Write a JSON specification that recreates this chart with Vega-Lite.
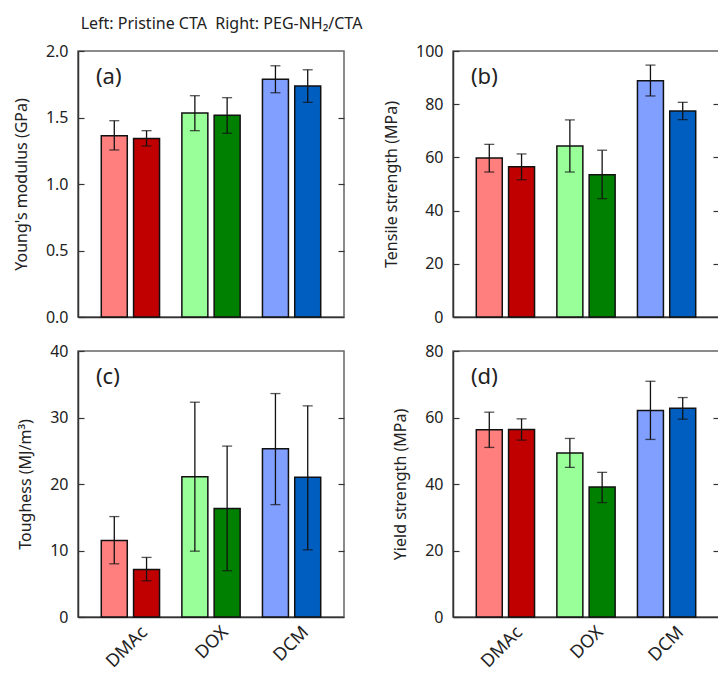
{
  "$schema": "https://vega.github.io/schema/vega-lite/v6.json",
  "padding": {"left": 12, "top": 16, "right": 0, "bottom": 0},
  "title": {"text": "Left: Pristine CTA\u00a0 Right: PEG-NH\u2082/CTA", "anchor": "start", "fontSize": 16, "fontWeight": "normal", "font": "Noto Sans", "color": "#222", "dx": 68, "offset": 10},
  "datasets": {
    "d": [
      {"panel": "a", "solvent": "DMAc", "sample": "Pristine", "bar": "DMAc Pristine", "value": 1.363, "lo": 1.256, "hi": 1.476},
      {"panel": "a", "solvent": "DMAc", "sample": "PEG", "bar": "DMAc PEG", "value": 1.343, "lo": 1.286, "hi": 1.401},
      {"panel": "a", "solvent": "DOX", "sample": "Pristine", "bar": "DOX Pristine", "value": 1.534, "lo": 1.401, "hi": 1.664},
      {"panel": "a", "solvent": "DOX", "sample": "PEG", "bar": "DOX PEG", "value": 1.516, "lo": 1.381, "hi": 1.649},
      {"panel": "a", "solvent": "DCM", "sample": "Pristine", "bar": "DCM Pristine", "value": 1.787, "lo": 1.686, "hi": 1.889},
      {"panel": "a", "solvent": "DCM", "sample": "PEG", "bar": "DCM PEG", "value": 1.737, "lo": 1.614, "hi": 1.859},
      {"panel": "b", "solvent": "DMAc", "sample": "Pristine", "bar": "DMAc Pristine", "value": 59.8, "lo": 54.5, "hi": 64.9},
      {"panel": "b", "solvent": "DMAc", "sample": "PEG", "bar": "DMAc PEG", "value": 56.5, "lo": 51.6, "hi": 61.3},
      {"panel": "b", "solvent": "DOX", "sample": "Pristine", "bar": "DOX Pristine", "value": 64.3, "lo": 54.5, "hi": 74.1},
      {"panel": "b", "solvent": "DOX", "sample": "PEG", "bar": "DOX PEG", "value": 53.5, "lo": 44.5, "hi": 62.7},
      {"panel": "b", "solvent": "DCM", "sample": "Pristine", "bar": "DCM Pristine", "value": 88.8, "lo": 83.1, "hi": 94.7},
      {"panel": "b", "solvent": "DCM", "sample": "PEG", "bar": "DCM PEG", "value": 77.4, "lo": 74.2, "hi": 80.7},
      {"panel": "c", "solvent": "DMAc", "sample": "Pristine", "bar": "DMAc Pristine", "value": 11.5, "lo": 8.0, "hi": 15.1},
      {"panel": "c", "solvent": "DMAc", "sample": "PEG", "bar": "DMAc PEG", "value": 7.15, "lo": 5.45, "hi": 8.96},
      {"panel": "c", "solvent": "DOX", "sample": "Pristine", "bar": "DOX Pristine", "value": 21.1, "lo": 9.9, "hi": 32.3},
      {"panel": "c", "solvent": "DOX", "sample": "PEG", "bar": "DOX PEG", "value": 16.3, "lo": 6.96, "hi": 25.7},
      {"panel": "c", "solvent": "DCM", "sample": "Pristine", "bar": "DCM Pristine", "value": 25.3, "lo": 16.9, "hi": 33.6},
      {"panel": "c", "solvent": "DCM", "sample": "PEG", "bar": "DCM PEG", "value": 21.0, "lo": 10.1, "hi": 31.75},
      {"panel": "d", "solvent": "DMAc", "sample": "Pristine", "bar": "DMAc Pristine", "value": 56.3, "lo": 51.0, "hi": 61.6},
      {"panel": "d", "solvent": "DMAc", "sample": "PEG", "bar": "DMAc PEG", "value": 56.4, "lo": 53.2, "hi": 59.6},
      {"panel": "d", "solvent": "DOX", "sample": "Pristine", "bar": "DOX Pristine", "value": 49.3, "lo": 45.0, "hi": 53.7},
      {"panel": "d", "solvent": "DOX", "sample": "PEG", "bar": "DOX PEG", "value": 39.1, "lo": 34.4, "hi": 43.5},
      {"panel": "d", "solvent": "DCM", "sample": "Pristine", "bar": "DCM Pristine", "value": 62.1, "lo": 53.4, "hi": 70.9},
      {"panel": "d", "solvent": "DCM", "sample": "PEG", "bar": "DCM PEG", "value": 62.8, "lo": 59.5, "hi": 66.0}
    ]
  },
  "config": {
    "font": "Noto Sans",
    "view": {"stroke": "#666", "strokeWidth": 1.5},
    "title": {"font": "Noto Sans", "fontWeight": "normal", "color": "#222"},
    "axis": {"grid": false, "labelFont": "Noto Sans", "labelFontSize": 16, "labelColor": "#222", "titleFont": "Noto Sans", "titleFontSize": 16, "titleFontWeight": "normal", "titleColor": "#222", "domainColor": "#333", "domainWidth": 1.5, "tickColor": "#333", "tickWidth": 1.2}
  },
  "columns": 2,
  "spacing": {"row": 34, "column": 109},
  "bounds": "flush",
  "concat": [
    {
      "width": 266, "height": 266,
      "title": {"text": "(a)", "anchor": "start", "frame": "group", "offset": -46, "dx": 18, "fontSize": 22},
      "data": {"name": "d"},
      "transform": [{"filter": "datum.panel === 'a'"}],
      "encoding": {
        "x": {"field": "solvent", "type": "nominal", "sort": ["DMAc", "DOX", "DCM"], "scale": {"paddingInner": 0.277, "paddingOuter": 0.289}, "axis": {"labels": false, "ticks": false, "title": null}},
        "xOffset": {"field": "sample", "type": "nominal", "sort": ["Pristine", "PEG"], "scale": {"paddingInner": 0.195, "paddingOuter": 0}}
      },
      "layer": [
        {"mark": {"type": "bar", "stroke": "#111", "strokeWidth": 1.5},
         "encoding": {
           "y": {"field": "value", "type": "quantitative", "scale": {"domain": [0, 2]}, "axis": {"title": "Young's modulus (GPa)", "values": [0, 0.5, 1, 1.5, 2], "format": ".1f", "tickSize": -6, "labelPadding": 16, "titlePadding": 16}},
           "color": {"field": "bar", "type": "nominal", "scale": {"domain": ["DMAc Pristine", "DMAc PEG", "DOX Pristine", "DOX PEG", "DCM Pristine", "DCM PEG"], "range": ["#FF7F7F", "#C00000", "#99FF99", "#008000", "#809FFF", "#005EC0"]}, "legend": null}}},
        {"mark": {"type": "rule", "color": "#111", "strokeWidth": 1.3},
         "encoding": {"y": {"field": "lo", "type": "quantitative", "scale": {"domain": [0, 2]}, "axis": {"orient": "right", "labels": false, "title": null, "domain": false, "tickSize": -6, "values": [0.5, 1, 1.5]}}, "y2": {"field": "hi"}}},
        {"mark": {"type": "tick", "color": "#111", "size": 10, "thickness": 1.3}, "encoding": {"y": {"field": "lo", "type": "quantitative", "axis": null}}},
        {"mark": {"type": "tick", "color": "#111", "size": 10, "thickness": 1.3}, "encoding": {"y": {"field": "hi", "type": "quantitative", "axis": null}}}
      ],
      "resolve": {"axis": {"y": "independent"}}
    },
    {
      "width": 266, "height": 266,
      "title": {"text": "(b)", "anchor": "start", "frame": "group", "offset": -46, "dx": 18, "fontSize": 22},
      "data": {"name": "d"},
      "transform": [{"filter": "datum.panel === 'b'"}],
      "encoding": {
        "x": {"field": "solvent", "type": "nominal", "sort": ["DMAc", "DOX", "DCM"], "scale": {"paddingInner": 0.277, "paddingOuter": 0.289}, "axis": {"labels": false, "ticks": false, "title": null}},
        "xOffset": {"field": "sample", "type": "nominal", "sort": ["Pristine", "PEG"], "scale": {"paddingInner": 0.195, "paddingOuter": 0}}
      },
      "layer": [
        {"mark": {"type": "bar", "stroke": "#111", "strokeWidth": 1.5},
         "encoding": {
           "y": {"field": "value", "type": "quantitative", "scale": {"domain": [0, 100]}, "axis": {"title": "Tensile strength (MPa)", "values": [0, 20, 40, 60, 80, 100], "tickSize": -6, "labelPadding": 16, "titlePadding": 16}},
           "color": {"field": "bar", "type": "nominal", "scale": {"domain": ["DMAc Pristine", "DMAc PEG", "DOX Pristine", "DOX PEG", "DCM Pristine", "DCM PEG"], "range": ["#FF7F7F", "#C00000", "#99FF99", "#008000", "#809FFF", "#005EC0"]}, "legend": null}}},
        {"mark": {"type": "rule", "color": "#111", "strokeWidth": 1.3},
         "encoding": {"y": {"field": "lo", "type": "quantitative", "scale": {"domain": [0, 100]}, "axis": {"orient": "right", "labels": false, "title": null, "domain": false, "tickSize": -6, "values": [20, 40, 60, 80]}}, "y2": {"field": "hi"}}},
        {"mark": {"type": "tick", "color": "#111", "size": 10, "thickness": 1.3}, "encoding": {"y": {"field": "lo", "type": "quantitative", "axis": null}}},
        {"mark": {"type": "tick", "color": "#111", "size": 10, "thickness": 1.3}, "encoding": {"y": {"field": "hi", "type": "quantitative", "axis": null}}}
      ],
      "resolve": {"axis": {"y": "independent"}}
    },
    {
      "width": 266, "height": 266,
      "title": {"text": "(c)", "anchor": "start", "frame": "group", "offset": -46, "dx": 18, "fontSize": 22},
      "data": {"name": "d"},
      "transform": [{"filter": "datum.panel === 'c'"}],
      "encoding": {
        "x": {"field": "solvent", "type": "nominal", "sort": ["DMAc", "DOX", "DCM"], "scale": {"paddingInner": 0.277, "paddingOuter": 0.289}, "axis": {"labelAngle": -45, "ticks": false, "title": null, "labelPadding": 6, "labelOffset": 8, "labelFontSize": 18}},
        "xOffset": {"field": "sample", "type": "nominal", "sort": ["Pristine", "PEG"], "scale": {"paddingInner": 0.195, "paddingOuter": 0}}
      },
      "layer": [
        {"mark": {"type": "bar", "stroke": "#111", "strokeWidth": 1.5},
         "encoding": {
           "y": {"field": "value", "type": "quantitative", "scale": {"domain": [0, 40]}, "axis": {"title": "Toughess (MJ/m\u00b3)", "values": [0, 10, 20, 30, 40], "tickSize": -6, "labelPadding": 16, "titlePadding": 16}},
           "color": {"field": "bar", "type": "nominal", "scale": {"domain": ["DMAc Pristine", "DMAc PEG", "DOX Pristine", "DOX PEG", "DCM Pristine", "DCM PEG"], "range": ["#FF7F7F", "#C00000", "#99FF99", "#008000", "#809FFF", "#005EC0"]}, "legend": null}}},
        {"mark": {"type": "rule", "color": "#111", "strokeWidth": 1.3},
         "encoding": {"y": {"field": "lo", "type": "quantitative", "scale": {"domain": [0, 40]}, "axis": {"orient": "right", "labels": false, "title": null, "domain": false, "tickSize": -6, "values": [10, 20, 30]}}, "y2": {"field": "hi"}}},
        {"mark": {"type": "tick", "color": "#111", "size": 10, "thickness": 1.3}, "encoding": {"y": {"field": "lo", "type": "quantitative", "axis": null}}},
        {"mark": {"type": "tick", "color": "#111", "size": 10, "thickness": 1.3}, "encoding": {"y": {"field": "hi", "type": "quantitative", "axis": null}}}
      ],
      "resolve": {"axis": {"y": "independent"}}
    },
    {
      "width": 266, "height": 266,
      "title": {"text": "(d)", "anchor": "start", "frame": "group", "offset": -46, "dx": 18, "fontSize": 22},
      "data": {"name": "d"},
      "transform": [{"filter": "datum.panel === 'd'"}],
      "encoding": {
        "x": {"field": "solvent", "type": "nominal", "sort": ["DMAc", "DOX", "DCM"], "scale": {"paddingInner": 0.277, "paddingOuter": 0.289}, "axis": {"labelAngle": -45, "ticks": false, "title": null, "labelPadding": 6, "labelOffset": 8, "labelFontSize": 18}},
        "xOffset": {"field": "sample", "type": "nominal", "sort": ["Pristine", "PEG"], "scale": {"paddingInner": 0.195, "paddingOuter": 0}}
      },
      "layer": [
        {"mark": {"type": "bar", "stroke": "#111", "strokeWidth": 1.5},
         "encoding": {
           "y": {"field": "value", "type": "quantitative", "scale": {"domain": [0, 80]}, "axis": {"title": "Yield strength (MPa)", "values": [0, 20, 40, 60, 80], "tickSize": -6, "labelPadding": 16, "titlePadding": 16}},
           "color": {"field": "bar", "type": "nominal", "scale": {"domain": ["DMAc Pristine", "DMAc PEG", "DOX Pristine", "DOX PEG", "DCM Pristine", "DCM PEG"], "range": ["#FF7F7F", "#C00000", "#99FF99", "#008000", "#809FFF", "#005EC0"]}, "legend": null}}},
        {"mark": {"type": "rule", "color": "#111", "strokeWidth": 1.3},
         "encoding": {"y": {"field": "lo", "type": "quantitative", "scale": {"domain": [0, 80]}, "axis": {"orient": "right", "labels": false, "title": null, "domain": false, "tickSize": -6, "values": [20, 40, 60]}}, "y2": {"field": "hi"}}},
        {"mark": {"type": "tick", "color": "#111", "size": 10, "thickness": 1.3}, "encoding": {"y": {"field": "lo", "type": "quantitative", "axis": null}}},
        {"mark": {"type": "tick", "color": "#111", "size": 10, "thickness": 1.3}, "encoding": {"y": {"field": "hi", "type": "quantitative", "axis": null}}}
      ],
      "resolve": {"axis": {"y": "independent"}}
    }
  ]
}
